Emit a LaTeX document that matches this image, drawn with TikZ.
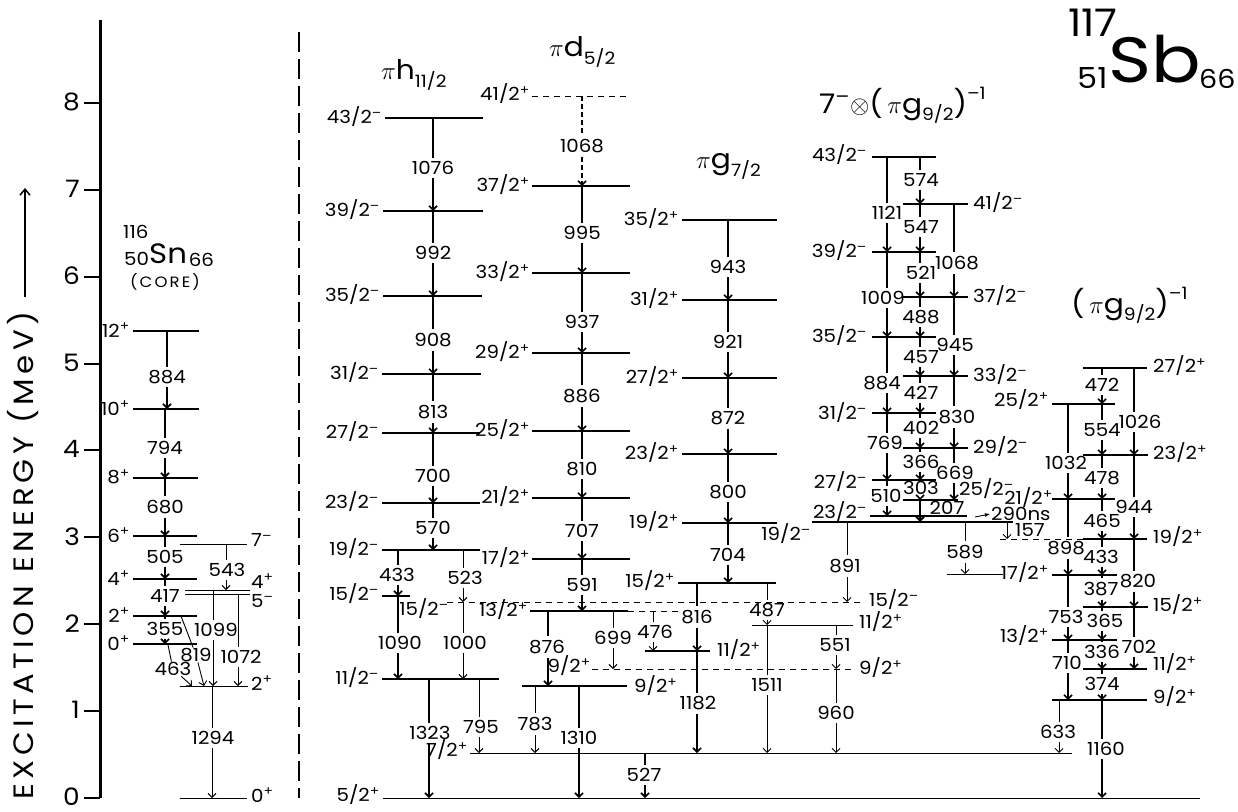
\documentclass[tikz,border=0pt]{standalone}
\usepackage{fontspec}
\setmainfont[FakeStretch=1.1]{Poppins}
\newfontfamily\popls[LetterSpace=14,FakeStretch=1.1]{Poppins}
\newfontfamily\popax[LetterSpace=16,FakeStretch=1.1]{Poppins}
\usetikzlibrary{arrows.meta}
\newcommand\lab{\fontsize{18}{18}\selectfont}
\newcommand\ttl{\fontsize{27}{27}\selectfont}
\newcommand\sub{\fontsize{17}{17}\selectfont}
\newcommand\Pp{\textsuperscript{+}}
\newcommand\Mm{\textsuperscript{–}}
\tikzset{
  lev/.style={line width=1.5pt},
  levt/.style={line width=1pt},
  levd/.style={line width=1pt,dash pattern=on 6pt off 5pt},
  gl/.style={line width=1.6pt},
  glt/.style={line width=0.9pt},
  arr/.style={-{Straight Barb[length=4pt,width=8pt]}},
  glab/.style={font=\lab,inner xsep=1pt,inner ysep=3.5pt},
  llab/.style={font=\lab,inner sep=1pt},
}
\newcommand\lv[4][lev]{\draw[#1] (#2,#4) -- (#3,#4);}
% [line opts]{name}{x}{ytop}{ybot}{label x,y}{text}
\newcommand\gam[7][gl]{%
  \node[glab] (#2) at (#6) {#7};
  \draw[#1] (#3,#4) -- (#3,#4 |- #2.north);
  \draw[#1,arr] (#3,#4 |- #2.south) -- (#3,#5);}
\begin{document}
\begin{tikzpicture}[x=1pt,y=-1pt]
\useasboundingbox (0,0) rectangle (1238,811);
% ---------- axis
\draw[line width=3pt] (100,20) -- (100,798);
\foreach \k in {0,...,8}{
  \draw[line width=2pt] (84,{798-86.9*\k}) -- (100,{798-86.9*\k});
  \node[anchor=east,font=\fontsize{24}{24}\selectfont,inner sep=0pt] (tk\k) at (80,{797-86.9*\k}) {\k};
}
\node[rotate=90,anchor=west,inner sep=0pt,font={\popax\fontsize{28}{28}\selectfont}] (axl) at (23,800) {EXCITATION ENERGY (MeV)};
\coordinate (axtop) at (25,188);
\draw[line width=1.5pt,-{Straight Barb[length=6pt,width=10pt]}] ([yshift=14pt]axl.east -| axtop) -- (axtop);
% separator
\draw[line width=1.5pt,dash pattern=on 20pt off 7pt] (299,32) -- (299,798);

% ---------- 116Sn core
\node[anchor=base west,font=\lab,inner sep=0pt] (sA) at (123,238) {116};
\node[anchor=base west,font=\lab,inner sep=0pt] (sZ) at (124,265) {50};
\node[anchor=base west,font=\fontsize{28}{28}\selectfont,inner sep=0pt] (sSn) at (149,263) {Sn};
\node[anchor=base west,font=\lab,inner sep=0pt] (sN) at ([xshift=1.5pt,yshift=-3pt]sSn.base east) {66};
\node[font={\popls\fontsize{15}{15}\selectfont}] (core) at (165,282) {(CORE)};
\lv{133}{199}{331} \node[llab,anchor=east] (s12) at (131,330) {12\Pp};
\lv{133}{199}{409} \node[llab,anchor=east] (s10) at (131,408) {10\Pp};
\lv{133}{198}{478} \node[llab,anchor=east] (s8) at (131,477) {8\Pp};
\lv{133}{197}{536} \node[llab,anchor=east] (s6) at (131,535) {6\Pp};
\lv{133}{197}{579} \node[llab,anchor=east] (s4) at (131,578) {4\Pp};
\lv{133}{197}{616} \node[llab,anchor=east] (s2) at (131,615) {2\Pp};
\lv{133}{197}{644} \node[llab,anchor=east] (s0) at (131,643) {0\Pp};
\lv[levt]{180}{247}{544} \node[llab,anchor=west] (s7m) at (250,540) {7\Mm};
\lv[levt]{185}{250}{590} \node[llab,anchor=west] (s4b) at (250,581) {4\Pp};
\lv[levt]{185}{250}{594} \node[llab,anchor=west] (s5m) at (250,601) {5\Mm};
\lv[levt]{180}{248}{686} \node[llab,anchor=west] (s2b) at (250,683) {2\Pp};
\lv[levt]{180}{247}{798} \node[llab,anchor=west] (s0b) at (250,795) {0\Pp};
\gam{gS884}{167}{331}{409}{167,377}{884}
\gam{gS794}{165}{409}{478}{165,448}{794}
\gam{gS680}{165}{478}{536}{165,507}{680}
\gam{gS505}{165}{536}{579}{165,557}{505}
\gam{gS417}{165}{579}{616}{165,596}{417}
\gam{gS355}{165}{616}{644}{165,629}{355}
\gam[glt]{gS543}{226}{544}{590}{227,570}{543}
\gam[glt]{gS1099}{213}{590}{686}{216,630}{1099}
\gam[glt]{gS1072}{238}{594}{686}{241,657}{1072}
\gam[glt]{gS1294}{212}{686}{798}{213,738}{1294}
\coordinate (a463) at (168,645); \coordinate (b463) at (192,686);
\node[glab,inner sep=0.5pt] (gS463) at (173,669) {463};
\draw[glt] (a463) -- (gS463); \draw[glt,arr] (gS463) -- (b463);
\coordinate (a819) at (181,616); \coordinate (b819) at (204,686);
\node[glab,inner sep=0.5pt] (gS819) at (196,655) {819};
\draw[glt] (a819) -- (gS819); \draw[glt,arr] (gS819) -- (b819);

% ---------- pi h11/2
\node[anchor=base west,font=\ttl,inner sep=0pt] (tH) at (381,79) {$\pi$h\raisebox{-8pt}{\sub 11/2}};
\lv{385}{483}{118} \node[llab,anchor=east] (h43) at (383,117) {43/2\Mm};
\lv{383}{483}{211} \node[llab,anchor=east] (h39) at (381,210) {39/2\Mm};
\lv{383}{482}{296} \node[llab,anchor=east] (h35) at (381,295) {35/2\Mm};
\lv{382}{481}{374} \node[llab,anchor=east] (h31) at (380,373) {31/2\Mm};
\lv{382}{480}{433} \node[llab,anchor=east] (h27) at (380,432) {27/2\Mm};
\lv{382}{480}{503} \node[llab,anchor=east] (h23) at (380,502) {23/2\Mm};
\lv{382}{480}{550} \node[llab,anchor=east] (h19) at (380,549) {19/2\Mm};
\lv{382}{410}{596} \node[llab,anchor=east] (h15) at (380,594) {15/2\Mm};
\lv[levd]{447}{865}{602} \node[llab] (h15b) at (424,609) {15/2\Mm};
\node[llab,anchor=west] (x15) at (868,600) {15/2\Mm};
\lv{382}{499}{679} \node[llab,anchor=east] (h11) at (380,678) {11/2\Mm};
\lv[levt]{470}{1072}{753} \node[llab,anchor=east] (l72) at (469,750) {7/2\Pp};
\lv[levt]{383}{1200}{798} \node[llab,anchor=east] (l52) at (381,795) {5/2\Pp};
\gam{gH1076}{433}{118}{211}{433,168}{1076}
\gam{gH992}{433}{211}{296}{433,253}{992}
\gam{gH908}{433}{296}{374}{433,340}{908}
\gam{gH813}{433}{374}{433}{433,412}{813}
\gam{gH700}{433}{433}{503}{433,476}{700}
\gam{gH570}{433}{503}{550}{433,528}{570}
\gam{gH433}{398}{550}{596}{397,575}{433}
\gam[glt]{gH523}{463}{550}{602}{465,578}{523}
\gam{gH1090}{398}{596}{679}{400,643}{1090}
\gam[glt]{gH1000}{463}{602}{679}{465,643}{1000}
\gam{gH1323}{429}{679}{798}{430,733}{1323}
\gam[glt]{gH795}{479}{679}{753}{481,727}{795}

% ---------- pi d5/2
\node[anchor=base west,font=\ttl,inner sep=0pt] (tD) at (549,56) {$\pi$d\raisebox{-8pt}{\sub 5/2}};
\lv[levd]{532}{630}{96} \node[llab,anchor=east] (d41) at (531,94) {41/2\Pp};
\lv{532}{630}{186} \node[llab,anchor=east] (d37) at (531,185) {37/2\Pp};
\lv{532}{630}{273} \node[llab,anchor=east] (d33) at (531,272) {33/2\Pp};
\lv{532}{630}{353} \node[llab,anchor=east] (d29) at (531,352) {29/2\Pp};
\lv{532}{630}{431} \node[llab,anchor=east] (d25) at (531,430) {25/2\Pp};
\lv{532}{630}{498} \node[llab,anchor=east] (d21) at (531,497) {21/2\Pp};
\lv{532}{630}{559} \node[llab,anchor=east] (d17) at (531,558) {17/2\Pp};
\lv{530}{628}{611} \node[llab,anchor=east] (d13) at (529,610) {13/2\Pp};
\lv[levd]{628}{678}{611}
\lv[levd]{592}{853}{669} \node[llab,anchor=east] (d9a) at (592,666) {9/2\Pp};
\node[llab,anchor=west] (d9ar) at (858,668) {9/2\Pp};
\lv{522}{627}{686} \node[llab,anchor=west] (d9b) at (633,686) {9/2\Pp};
\gam[gl,dash pattern=on 5pt off 3pt]{gD1068}{582}{96}{186}{582,146}{1068}
\gam{gD995}{582}{186}{273}{582,233}{995}
\gam{gD937}{582}{273}{353}{582,322}{937}
\gam{gD886}{582}{353}{431}{582,396}{886}
\gam{gD810}{582}{431}{498}{582,469}{810}
\gam{gD707}{582}{498}{559}{582,531}{707}
\gam{gD591}{582}{559}{611}{582,585}{591}
\gam{gD876}{548}{611}{686}{547,647}{876}
\gam[glt]{gD699}{613}{611}{669}{613,638}{699}
\gam[glt]{gD783}{535}{686}{753}{535,724}{783}
\gam{gD1310}{579}{686}{798}{579,738}{1310}
\gam{gD527}{645}{753}{798}{644,775}{527}

% ---------- pi g7/2
\node[anchor=base west,font=\ttl,inner sep=0pt] (tG) at (696,168) {$\pi$g\raisebox{-8pt}{\sub 7/2}};
\lv{682}{777}{220} \node[llab,anchor=east] (g35) at (680,219) {35/2\Pp};
\lv{682}{777}{300} \node[llab,anchor=east] (g31) at (680,299) {31/2\Pp};
\lv{682}{777}{378} \node[llab,anchor=east] (g27) at (680,377) {27/2\Pp};
\lv{682}{777}{454} \node[llab,anchor=east] (g23) at (680,453) {23/2\Pp};
\lv{682}{777}{523} \node[llab,anchor=east] (g19) at (680,522) {19/2\Pp};
\lv{678}{776}{583} \node[llab,anchor=east] (g15) at (676,581) {15/2\Pp};
\lv{645}{710}{651} \node[llab,anchor=west] (g11a) at (716,650) {11/2\Pp};
\lv[levt]{752}{853}{625} \node[llab,anchor=west] (g11b) at (858,622) {11/2\Pp};
\gam{gG943}{728}{220}{300}{728,267}{943}
\gam{gG921}{728}{300}{378}{728,342}{921}
\gam{gG872}{728}{378}{454}{728,418}{872}
\gam{gG800}{728}{454}{523}{728,492}{800}
\gam{gG704}{728}{523}{583}{728,555}{704}
\gam{gG816}{697}{583}{651}{697,617}{816}
\gam{gG1182}{697}{651}{753}{698,703}{1182}
\gam[glt]{gG476}{653}{611}{651}{655,632}{476}
\gam[glt]{gG487}{767}{583}{625}{767,610}{487}
\gam[glt]{gG1511}{767}{625}{753}{767,685}{1511}
\gam[glt]{gG551}{836}{625}{669}{835,645}{551}
\gam[glt]{gG960}{836}{669}{753}{836,713}{960}

% ---------- 7- x (pi g9/2)^-1
\node[anchor=base west,font=\ttl,inner sep=0pt] (tT) at (819,113) {7\Mm$\otimes$(\,$\pi$g\raisebox{-7pt}{\sub 9/2})\raisebox{14pt}{\sub –1}};
\lv{872}{936}{157} \node[llab,anchor=east] (t43) at (868,155) {43/2\Mm};
\lv{903}{968}{204} \node[llab,anchor=west] (t41) at (972,203) {41/2\Mm};
\lv{872}{936}{252} \node[llab,anchor=east] (t39) at (868,251) {39/2\Mm};
\lv{903}{968}{297} \node[llab,anchor=west] (t37) at (972,296) {37/2\Mm};
\lv{872}{936}{337} \node[llab,anchor=east] (t35) at (868,336) {35/2\Mm};
\lv{903}{968}{376} \node[llab,anchor=west] (t33) at (972,375) {33/2\Mm};
\lv{872}{936}{413} \node[llab,anchor=east] (t31) at (868,413) {31/2\Mm};
\lv{903}{968}{448} \node[llab,anchor=west] (t29) at (972,447) {29/2\Mm};
\lv{872}{936}{480} \node[llab,anchor=east] (t27) at (868,482) {27/2\Mm};
\lv{903}{958}{500} \node[llab,anchor=west] (t25) at (958,489) {25/2\Mm};
\lv{870}{967}{516} \node[llab,anchor=east] (t23) at (868,512) {23/2\Mm};
\lv{812}{1013}{522} \node[llab,anchor=east] (t19) at (812,534) {19/2\Mm};
\lv[levt]{947}{1003}{574}
\lv[levd]{1000}{1083}{539}
\gam{gT1121}{887}{157}{252}{887,213}{1121}
\gam{gT1009}{887}{252}{337}{883,298}{1009}
\gam{gT884}{887}{337}{413}{882,383}{884}
\gam{gT769}{887}{413}{480}{885,443}{769}
\gam{gT510}{887}{480}{516}{886,496}{510}
\gam{gT574}{920}{157}{204}{921,180}{574}
\gam{gT547}{920}{204}{252}{921,227}{547}
\gam{gT521}{920}{252}{297}{921,273}{521}
\gam{gT488}{920}{297}{337}{921,317}{488}
\gam{gT457}{920}{337}{376}{921,357}{457}
\gam{gT427}{920}{376}{413}{921,393}{427}
\gam{gT402}{920}{413}{448}{921,428}{402}
\gam{gT366}{920}{448}{480}{921,462}{366}
\gam{gT303}{920}{480}{500}{921,488}{303}
\coordinate (a207) at (920,500); \coordinate (b207) at (920,522);
\draw[line width=2pt,arr] (a207) -- (b207);
\node[glab] (gT207) at (947,508) {207};
\gam{gT1068}{954}{204}{297}{957,263}{1068}
\gam{gT945}{954}{297}{376}{955,345}{945}
\gam{gT830}{954}{376}{448}{957,417}{830}
\gam{gT669}{954}{448}{500}{955,473}{669}
\gam[glt]{gT891}{847}{522}{602}{845,566}{891}
\gam[glt]{gT589}{965}{522}{574}{965,552}{589}
\coordinate (a157) at (1007,522); \coordinate (b157) at (1007,539);
\draw[glt,arr] (a157) -- (b157);
\node[llab,anchor=west] (gT157) at (1014,530) {157};
\node[llab,anchor=west] (ns) at (990,514) {290ns};
\coordinate (ans) at (975,517);
\draw[glt,-{Latex[length=5pt,width=4pt]}] (ans) -- (ns.west);

% ---------- (pi g9/2)^-1
\node[anchor=base west,font=\ttl,inner sep=0pt] (tF) at (1071,313) {(\,$\pi$g\raisebox{-7pt}{\sub 9/2})\raisebox{14pt}{\sub –1}};
\lv{1083}{1147}{368} \node[llab,anchor=west] (f27) at (1152,366) {27/2\Pp};
\lv{1052}{1115}{404} \node[llab,anchor=east] (f25) at (1050,400) {25/2\Pp};
\lv{1083}{1148}{455} \node[llab,anchor=west] (f23) at (1152,453) {23/2\Pp};
\lv{1052}{1115}{499} \node[llab,anchor=east] (f21) at (1054,498) {21/2\Pp};
\lv{1083}{1147}{539} \node[llab,anchor=west] (f19) at (1152,537) {19/2\Pp};
\lv{1052}{1117}{575} \node[llab,anchor=east] (f17) at (1050,573) {17/2\Pp};
\lv{1083}{1148}{607} \node[llab,anchor=west] (f15) at (1152,605) {15/2\Pp};
\lv{1052}{1117}{640} \node[llab,anchor=east] (f13) at (1050,636) {13/2\Pp};
\lv{1083}{1147}{669} \node[llab,anchor=west] (f11) at (1152,664) {11/2\Pp};
\lv{1052}{1147}{700} \node[llab,anchor=west] (f9) at (1152,697) {9/2\Pp};
\gam{gF472}{1102}{368}{404}{1102,385}{472}
\gam{gF554}{1102}{404}{455}{1102,430}{554}
\gam{gF478}{1102}{455}{499}{1102,478}{478}
\gam{gF465}{1102}{499}{539}{1102,521}{465}
\gam{gF433}{1102}{539}{575}{1101,557}{433}
\gam{gF387}{1102}{575}{607}{1101,589}{387}
\gam{gF365}{1102}{607}{640}{1105,621}{365}
\gam{gF336}{1102}{640}{669}{1102,652}{336}
\gam{gF374}{1102}{669}{700}{1102,684}{374}
\gam{gF1160}{1102}{700}{798}{1106,749}{1160}
\gam{gF1032}{1068}{404}{499}{1066,463}{1032}
\gam{gF898}{1068}{499}{575}{1066,548}{898}
\gam{gF753}{1068}{575}{640}{1066,617}{753}
\gam{gF710}{1068}{640}{700}{1067,663}{710}
\gam{gF1026}{1134}{368}{455}{1140,422}{1026}
\gam{gF944}{1134}{455}{539}{1134,507}{944}
\gam{gF820}{1134}{539}{607}{1138,581}{820}
\gam{gF702}{1134}{607}{669}{1139,647}{702}
\gam[glt]{gF633}{1059}{700}{753}{1058,732}{633}

% ---------- 117Sb
\node[anchor=base west,font=\fontsize{38}{38}\selectfont,inner sep=0pt] (bA) at (1068,36) {117};
\node[anchor=base west,font=\fontsize{29}{29}\selectfont,inner sep=0pt] (bZ) at (1077,88) {51};
\node[anchor=base west,font=\fontsize{64}{64}\selectfont,inner sep=0pt] (bSb) at (1108,82) {\scalebox{1.04}[1]{Sb}};
\node[anchor=base west,font=\fontsize{26}{26}\selectfont,inner sep=0pt] (bN) at (1199,88) {66};
\end{tikzpicture}
\end{document}
